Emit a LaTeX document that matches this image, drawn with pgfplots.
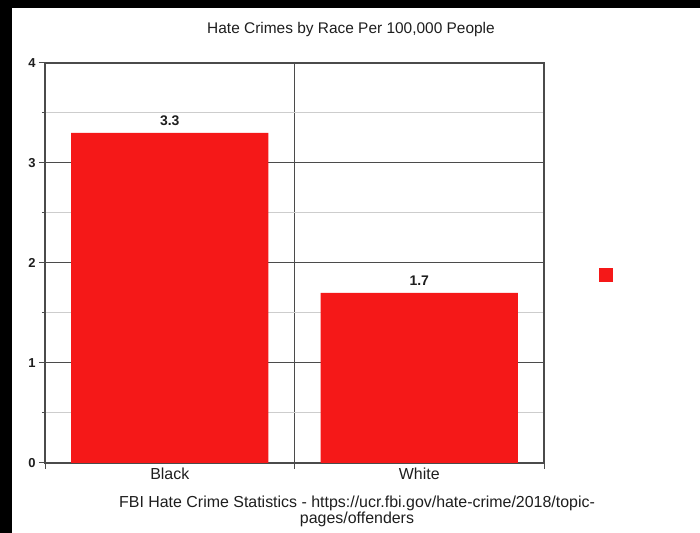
\documentclass[border=0pt]{standalone}
\usepackage{pgfplots}
\pgfplotsset{compat=1.18}
\usepackage{fontspec}
\setmainfont{Liberation Sans}
\definecolor{barred}{RGB}{245,24,24}
\definecolor{axgray}{RGB}{75,75,75}
\definecolor{mingray}{RGB}{205,205,205}
\definecolor{txt}{RGB}{30,30,30}
\begin{document}
\begin{tikzpicture}[x=1bp,y=1bp]
\fill[black] (0,0) rectangle (700,533);
\fill[white] (12,0) rectangle (700,525);
\begin{axis}[
  at={(45bp,70bp)}, anchor=south west,
  scale only axis, width=499bp, height=400bp,
  xmin=-0.5, xmax=1.5, ymin=0, ymax=4,
  ybar, bar width=0.79,
  /pgf/number format/assume math mode=true,
  axis line style={axgray, line width=1.2bp},
  tick align=outside,
  xtick pos=bottom, ytick pos=left,
  xtick={-0.5,0.5,1.5}, xticklabels={},
  xmajorgrids,
  extra x ticks={0,1}, extra x tick labels={Black,White},
  extra x tick style={grid=none, major tick length=0pt,
    xticklabel style={font=\fontsize{16}{16}\selectfont, text=txt, yshift=-1bp}},
  ytick={0,1,2,3,4}, minor ytick={0.5,1.5,2.5,3.5},
  ymajorgrids, yminorgrids,
  major grid style={axgray, line width=1bp},
  minor grid style={mingray, line width=1bp},
  major tick length=6bp, minor tick length=3bp,
  every tick/.style={axgray, line width=1bp},
  yticklabel style={font=\bfseries\fontsize{13}{13}\selectfont, text=txt},
  nodes near coords,
  nodes near coords style={font=\bfseries\fontsize{14}{14}\selectfont, text=txt, yshift=4bp,
    /pgf/number format/.cd, fixed, fixed zerofill, precision=1, assume math mode=true},
  area legend,
  legend image code/.code={\fill[#1] (0bp,-7bp) rectangle (14bp,7bp);},
  legend style={draw=none, fill=none, at={(1.1102,0.47)}, anchor=west, inner sep=0pt,
    nodes={inner sep=0pt}},
]
\addplot[fill=barred, draw=none] coordinates {(0,3.3) (1,1.7)};
\addlegendentry{}
\end{axis}
\node[text=txt, font=\fontsize{15.5}{15.5}\selectfont] at (351,503) {Hate Crimes by Race Per 100,000 People};
\node[text=txt, align=center, font=\fontsize{16}{16}\selectfont] at (357,22) {FBI Hate Crime Statistics - https://ucr.fbi.gov/hate-crime/2018/topic-\\pages/offenders};
\end{tikzpicture}
\end{document}
